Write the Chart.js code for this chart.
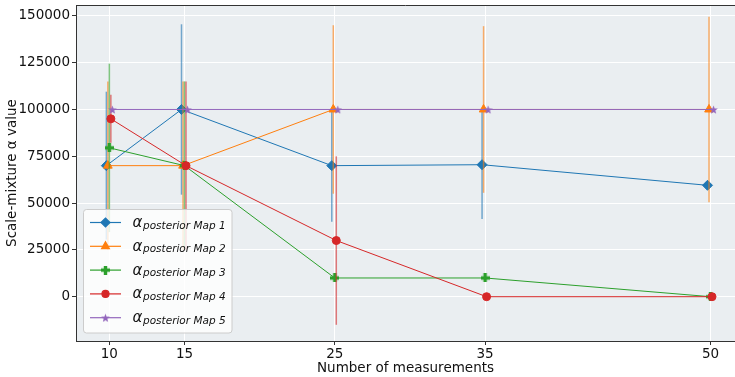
<!DOCTYPE html>
<html>
<head>
<meta charset="utf-8">
<script src="https://cdn.jsdelivr.net/npm/chart.js@4.4.0/dist/chart.umd.min.js"></script>
<style>
  html, body { margin: 0; padding: 0; background: #fff; }
  #wrap { width: 735px; height: 377px; position: relative; }
</style>
</head>
<body>
<div id="wrap"><canvas id="chart" width="735" height="377"></canvas></div>
<script>
// data
const measurements = [10, 15, 25, 35, 50];
const seriesLabels = ['Map 1', 'Map 2', 'Map 3', 'Map 4', 'Map 5'];
const map1Alpha = [70000, 100000, 70000, 70500, 59500];
const map2Alpha = [70000, 70000, 100000, 100000, 100000];
const map3Alpha = [79500, 70000, 10000, 10000, 0];
const map4Alpha = [95000, 70000, 30000, 0, 0];
const map5Alpha = [100000, 100000, 100000, 100000, 100000];
// half-length of the vertical error bars
const map1Err = [39500, 45500, 30000, 29000, 0];
const map2Err = [45000, 45000, 45000, 44500, 49500];
const map3Err = [45000, 45000, 0, 0, 0];
const map4Err = [12800, 45000, 45000, 0, 0];
const map5Err = [0, 0, 0, 0, 0];
// small horizontal dodge so the series don't overlap
const dodge = [-0.2, -0.1, 0, 0.1, 0.2];
const yTicks = [0, 25000, 50000, 75000, 100000, 125000, 150000];

const colors = ['#1f77b4', '#ff7f0e', '#2ca02c', '#d62728', '#9467bd'];
const allAlpha = [map1Alpha, map2Alpha, map3Alpha, map4Alpha, map5Alpha];
const allErr = [map1Err, map2Err, map3Err, map4Err, map5Err];

function hexA(hex, a) {
  const n = parseInt(hex.slice(1), 16);
  return `rgba(${n >> 16}, ${(n >> 8) & 255}, ${n & 255}, ${a})`;
}

// filled plus ("P") and filled star markers
function makePlus(color, s) {
  const c = document.createElement('canvas');
  c.width = s; c.height = s;
  const g = c.getContext('2d');
  const t = s * 0.38, o = (s - t) / 2;
  g.fillStyle = color;
  g.fillRect(o, 0, t, s);
  g.fillRect(0, o, s, t);
  return c;
}
function makeStar(color, s) {
  const c = document.createElement('canvas');
  c.width = s; c.height = s;
  const g = c.getContext('2d');
  const R = s / 2, r = R * 0.42;
  g.fillStyle = color;
  g.beginPath();
  for (let i = 0; i < 10; i++) {
    const rad = i % 2 ? r : R;
    const a = -Math.PI / 2 + i * Math.PI / 5;
    const px = R + rad * Math.cos(a), py = R + 0.5 + rad * Math.sin(a);
    if (i === 0) g.moveTo(px, py); else g.lineTo(px, py);
  }
  g.closePath();
  g.fill();
  return c;
}

const markers = [
  { style: 'rectRot', radius: 5 },
  { style: 'triangle', radius: 5 },
  { style: makePlus(colors[2], 9), radius: 5 },
  { style: 'circle', radius: 4 },
  { style: makeStar(colors[4], 9), radius: 5 },
];

const datasets = allAlpha.map((vals, i) => ({
  label: seriesLabels[i],
  data: vals.map((v, j) => ({ x: measurements[j] + dodge[i], y: v })),
  borderColor: colors[i],
  backgroundColor: colors[i],
  borderWidth: 1,
  pointStyle: markers[i].style,
  pointRadius: markers[i].radius,
  pointBorderWidth: 1,
  pointHoverRadius: markers[i].radius,
  tension: 0,
  clip: 8,
  order: 5 - i,
}));

const errorBars = {
  id: 'errorBars',
  beforeDatasetDraw(chart, args) {
    const i = args.index;
    const xs = chart.scales.x, ys = chart.scales.y;
    const ctx = chart.ctx;
    ctx.save();
    ctx.strokeStyle = hexA(colors[i], 0.6);
    ctx.lineWidth = 1.5;
    allAlpha[i].forEach((v, j) => {
      const e = allErr[i][j];
      if (!e) return;
      const px = xs.getPixelForValue(measurements[j] + dodge[i]);
      ctx.beginPath();
      ctx.moveTo(px, ys.getPixelForValue(v - e));
      ctx.lineTo(px, ys.getPixelForValue(v + e));
      ctx.stroke();
    });
    ctx.restore();
  }
};

const frame = {
  id: 'frame',
  beforeDraw(chart) {
    const a = chart.chartArea, ctx = chart.ctx;
    ctx.save();
    ctx.fillStyle = '#eaeef1';
    ctx.fillRect(a.left, a.top, a.right - a.left, a.bottom - a.top);
    ctx.restore();
  },
  afterDraw(chart) {
    const a = chart.chartArea, ctx = chart.ctx;
    ctx.save();
    ctx.strokeStyle = '#333';
    ctx.lineWidth = 1;
    ctx.beginPath();
    ctx.moveTo(a.left, a.top + 0.5);
    ctx.lineTo(a.right, a.top + 0.5);
    ctx.stroke();

    // legend
    const bx = 83.5, by = 209.5, bw = 148.5, bh = 123.5;
    ctx.fillStyle = 'rgba(255,255,255,0.8)';
    ctx.strokeStyle = '#cccccc';
    ctx.beginPath();
    ctx.roundRect(bx, by, bw, bh, 3);
    ctx.fill();
    ctx.stroke();
    seriesLabels.forEach((lab, i) => {
      const cy = 222.5 + i * 23.8;
      ctx.strokeStyle = colors[i];
      ctx.lineWidth = 1.2;
      ctx.beginPath();
      ctx.moveTo(90, cy);
      ctx.lineTo(121, cy);
      ctx.stroke();
      ctx.fillStyle = colors[i];
      Chart.helpers.drawPoint(ctx, {
        pointStyle: markers[i].style, radius: markers[i].radius - 0.5, borderWidth: 1, rotation: 0
      }, 105.5, cy);
      ctx.fillStyle = '#111';
      ctx.textBaseline = 'alphabetic';
      ctx.textAlign = 'left';
      ctx.font = 'italic 15px "DejaVu Sans"';
      ctx.fillText('α', 132.5, cy + 4.5);
      ctx.font = 'italic 10.5px "DejaVu Sans"';
      ctx.fillText('posterior ' + lab, 143, cy + 6);
    });
    ctx.restore();
  }
};

new Chart(document.getElementById('chart'), {
  type: 'line',
  data: { datasets },
  plugins: [errorBars, frame],
  options: {
    responsive: false,
    animation: false,
    layout: { autoPadding: false, padding: { top: 5, right: 0, left: 0, bottom: 0 } },
    plugins: { legend: { display: false }, tooltip: { enabled: false } },
    scales: {
      x: {
        type: 'linear',
        min: 7.78,
        max: 51.63,
        afterBuildTicks: s => { s.ticks = measurements.map(v => ({ value: v })); },
        afterFit: s => { s.height = 36; s.paddingLeft = 0; s.paddingRight = 0; },
        grid: { color: '#ffffff', lineWidth: 1, tickColor: '#333', tickLength: 4 },
        border: { display: true, color: '#333', width: 1 },
        ticks: { color: '#111', font: { family: 'DejaVu Sans', size: 13.5 }, padding: 1, maxRotation: 0 },
        title: {
          display: true, text: 'Number of measurements', color: '#111',
          font: { family: 'DejaVu Sans', size: 13.5 }, padding: { top: 0, bottom: 0 }
        }
      },
      y: {
        min: -23660,
        max: 155800,
        afterBuildTicks: s => { s.ticks = yTicks.map(v => ({ value: v })); },
        afterFit: s => { s.width = 76; s.paddingTop = 0; s.paddingBottom = 0; },
        grid: { color: '#ffffff', lineWidth: 1, tickColor: '#333', tickLength: 4 },
        border: { display: true, color: '#333', width: 1 },
        ticks: { color: '#111', font: { family: 'DejaVu Sans', size: 13.5 }, padding: 2, callback: v => String(v) },
        title: {
          display: true, text: 'Scale-mixture α value', color: '#111',
          font: { family: 'DejaVu Sans', size: 13.5 }, padding: { top: 4, bottom: 0 }
        }
      }
    }
  }
});
</script>
</body>
</html>
